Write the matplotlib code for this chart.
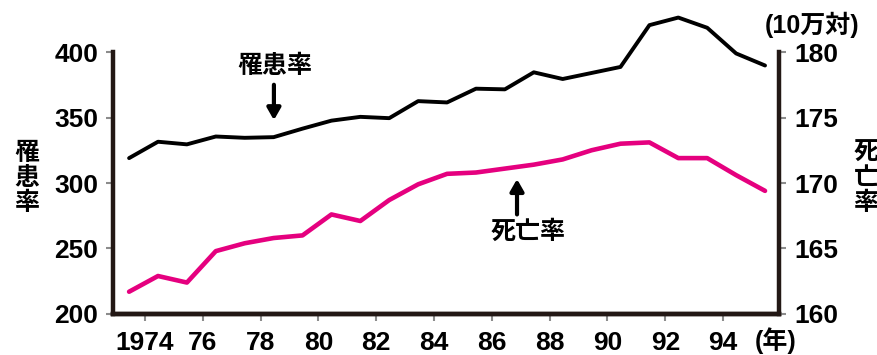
import matplotlib
matplotlib.use("Agg")
import matplotlib.pyplot as plt
import numpy as np

plt.rcParams['font.family'] = ['Liberation Sans', 'Noto Sans CJK JP']

# data (one point per year, drawn mid-year)
years = list(range(1973, 1996))
incidence = [319, 331.5, 329.5, 335.5, 334.5, 335, 341.5, 347.6, 350.5, 349.5,
             362.5, 361.5, 372, 371.5, 384.5, 379.4, 384, 388.6, 420.5, 426.3,
             418.5, 398.9, 389.7]
mortality = [161.7, 162.9, 162.4, 164.8, 165.4, 165.8, 166.0, 167.6, 167.1, 168.7,
             169.9, 170.7, 170.8, 171.1, 171.4, 171.8, 172.5, 173.0, 173.1, 171.9,
             171.9, 170.6, 169.4]
xticks = [1974, 1976, 1978, 1980, 1982, 1984, 1986, 1988, 1990, 1992, 1994]
xticklabels = ["1974", "76", "78", "80", "82", "84", "86", "88", "90", "92", "94"]
left_ticks = [200, 250, 300, 350, 400]
right_ticks = [160, 165, 170, 175, 180]

spine_col = '#231815'
tick_col = '#8c8c8c'
magenta = '#e5007f'

fig = plt.figure(figsize=(8.77, 3.55), dpi=100)
ax = fig.add_axes([0.1294, 0.1155, 0.7594, 0.738])
ax2 = ax.twinx()

x = np.array(years) + 0.45
ax.plot(x, incidence, color='black', lw=2.8, solid_joinstyle='round',
        solid_capstyle='round', zorder=3, clip_on=False)
ax2.plot(x, mortality, color=magenta, lw=3.3, solid_joinstyle='round',
         solid_capstyle='round', zorder=3, clip_on=False)

ax.set_xlim(1972.91, 1995.95)
ax.set_ylim(200, 400)
ax2.set_ylim(160, 180)

for a in (ax, ax2):
    a.spines['top'].set_visible(False)
    for s in ('left', 'right', 'bottom'):
        a.spines[s].set_linewidth(3.2)
        a.spines[s].set_color(spine_col)
    a.patch.set_visible(False)
ax.spines['right'].set_visible(False)
ax2.spines['left'].set_visible(False)

ax.set_xticks(xticks)
ax.set_xticklabels(xticklabels)
ax.set_yticks(left_ticks)
ax2.set_yticks(right_ticks)

ax.tick_params(axis='both', direction='out', length=5, width=1.5, color=tick_col,
               labelsize=19, pad=6)
ax.tick_params(axis='x', pad=7)
ax2.tick_params(axis='y', direction='out', length=5, width=1.5, color=tick_col,
                labelsize=19, pad=6)
for lab in ax.get_xticklabels() + ax.get_yticklabels() + ax2.get_yticklabels():
    lab.set_fontweight('bold')

arrow_style = dict(arrowstyle="-|>,head_length=0.7,head_width=0.4",
                   lw=3, color='black', shrinkA=0, shrinkB=0)

# 罹患率 label with downward arrow
ax.text(1978.5, 389, "罹患率", ha='center', va='center', fontsize=18, fontweight='bold')
ax.annotate("", xy=(1978.46, 348), xytext=(1978.46, 375), arrowprops=arrow_style)

# 死亡率 label with upward arrow
ax.text(1987.25, 263, "死亡率", ha='center', va='center', fontsize=18, fontweight='bold')
ax.annotate("", xy=(1986.87, 303), xytext=(1986.87, 276), arrowprops=arrow_style)

# axis titles
fig.text(27 / 877, 1 - 178 / 355, "罹\n患\n率", ha='center', va='center',
         fontsize=18, linespacing=1.05, fontweight='bold')
fig.text(866 / 877, 1 - 178 / 355, "死\n亡\n率", ha='center', va='center',
         fontsize=18, linespacing=1.05, fontweight='bold')
fig.text(812 / 877, 1 - 25 / 355, "(10万対)", ha='center', va='center',
         fontsize=18, fontweight='bold')
fig.text(776 / 877, 1 - 341 / 355, "(年)", ha='center', va='center',
         fontsize=18, fontweight='bold')

fig.savefig("out.png", dpi=100)
